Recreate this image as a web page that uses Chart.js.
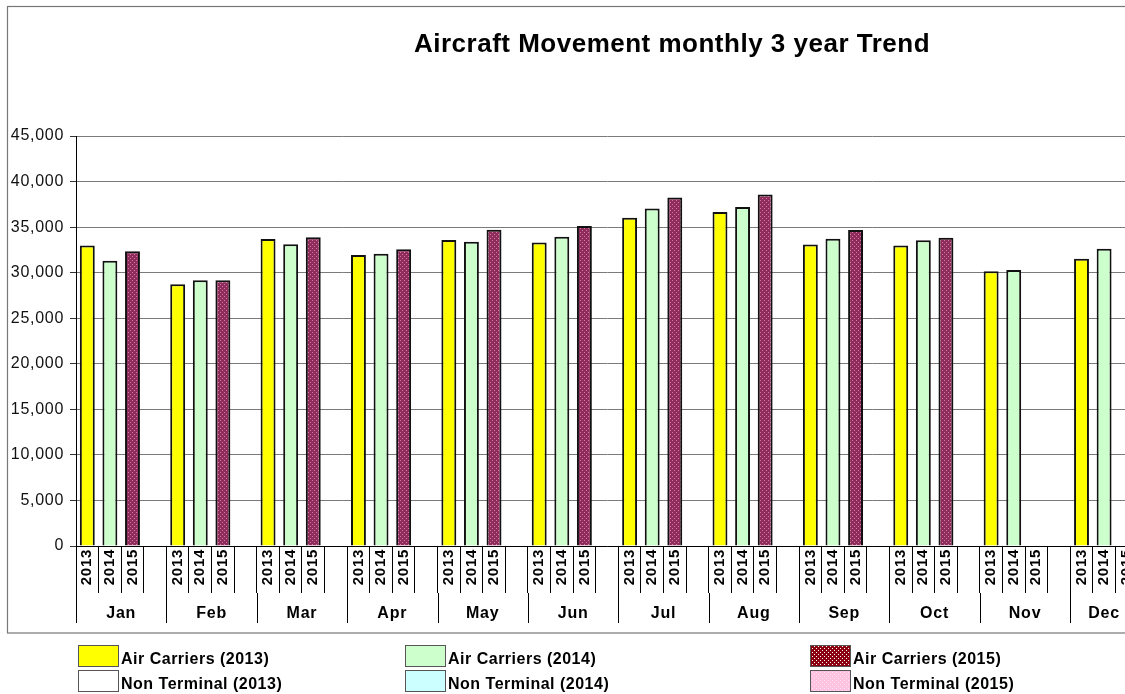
<!DOCTYPE html>
<html>
<head>
<meta charset="utf-8">
<script src="https://cdn.jsdelivr.net/npm/chart.js@4"></script>
<style>
  html, body { margin: 0; padding: 0; overflow: hidden; background: #fff; }
  #wrap { width: 1125px; height: 694px; overflow: hidden; }
</style>
</head>
<body>
<div id="wrap"><canvas id="movementChart" width="1138" height="694"></canvas></div>
<script>
const chartTitle = "Aircraft Movement monthly 3 year Trend";
const months = ["Jan", "Feb", "Mar", "Apr", "May", "Jun", "Jul", "Aug", "Sep", "Oct", "Nov", "Dec"];
const years = ["2013", "2014", "2015"];
const yTicks = [0, 5000, 10000, 15000, 20000, 25000, 30000, 35000, 40000, 45000];

const airCarriers2013 = [32990, 28740, 33700, 31940, 33580, 33320, 36040, 36650, 33080, 32970, 30150, 31520];
const airCarriers2014 = [31310, 29160, 33110, 32080, 33400, 33950, 37030, 37200, 33710, 33570, 30300, 32620];
const airCarriers2015 = [32360, 29160, 33880, 32560, 34710, 35110, 38240, 38570, 34670, 33820, null, null];
const nonTerminal2013 = [];
const nonTerminal2014 = [];
const nonTerminal2015 = [];

const seriesNames = [
  "Air Carriers (2013)", "Air Carriers (2014)", "Air Carriers (2015)",
  "Non Terminal (2013)", "Non Terminal (2014)", "Non Terminal (2015)"
];

const FONT = "'Liberation Sans', Arial, sans-serif";

function makePattern(base, dot) {
  const c = document.createElement("canvas");
  c.width = 4; c.height = 4;
  const g = c.getContext("2d");
  g.fillStyle = base;
  g.fillRect(0, 0, 4, 4);
  g.fillStyle = dot;
  g.fillRect(0, 0, 1, 1);
  g.fillRect(2, 2, 1, 1);
  return g.createPattern(c, "repeat");
}

// slots per month: 2013, 2014, 2015, gap (last month has no gap)
const slotLabels = [];
months.forEach((m, i) => {
  years.forEach(y => slotLabels.push(y));
  if (i < months.length - 1) slotLabels.push("");
});

function toSlots(values, yearIndex) {
  const out = new Array(slotLabels.length).fill(null);
  months.forEach((m, i) => {
    if (values[i] != null) out[i * 4 + yearIndex] = values[i];
  });
  return out;
}

const barPattern = makePattern("#8e2c5c", "#d77aa6");
const legendPattern2015 = makePattern("#8a0010", "#ffffff");
const pinkPattern = makePattern("#ffc2e0", "#ffe6f2");

const datasets = [
  { label: seriesNames[0], data: toSlots(airCarriers2013, 0), backgroundColor: "#ffff00", legendFill: "#ffff00" },
  { label: seriesNames[1], data: toSlots(airCarriers2014, 1), backgroundColor: "#ccffcc", legendFill: "#ccffcc" },
  { label: seriesNames[2], data: toSlots(airCarriers2015, 2), backgroundColor: barPattern, legendFill: legendPattern2015 },
  { label: seriesNames[3], data: toSlots(nonTerminal2013, 0), backgroundColor: "#ffffff", legendFill: "#ffffff" },
  { label: seriesNames[4], data: toSlots(nonTerminal2014, 1), backgroundColor: "#ccffff", legendFill: "#ccffff" },
  { label: seriesNames[5], data: toSlots(nonTerminal2015, 2), backgroundColor: pinkPattern, legendFill: pinkPattern }
].map(d => Object.assign(d, {
  borderColor: "#111",
  borderWidth: 2,
  barPercentage: 0.66,
  categoryPercentage: 1
}));

const decorPlugin = {
  id: "decor",
  beforeDraw(chart) {
    // the reference text is drawn a bit wider than Arial
    chart.ctx.letterSpacing = "0.7px";
  },
  afterDraw(chart) {
    const ctx = chart.ctx;
    const x = chart.scales.x;
    const area = chart.chartArea;
    ctx.save();

    // outer frame
    ctx.strokeStyle = "#777";
    ctx.lineWidth = 1.2;
    ctx.strokeRect(7.5, 6.5, 1300, 626.5);

    // title
    ctx.fillStyle = "#000";
    ctx.letterSpacing = "0.5px";
    ctx.font = "bold 26px " + FONT;
    ctx.textAlign = "center";
    ctx.textBaseline = "alphabetic";
    ctx.fillText(chartTitle, 672, 52);

    // month separators and labels
    const slotW = x.width / slotLabels.length;
    ctx.strokeStyle = "#000";
    ctx.lineWidth = 1;
    ctx.letterSpacing = "0.8px";
    ctx.font = "bold 16px " + FONT;
    months.forEach((m, i) => {
      const left = x.getPixelForValue(i * 4) - slotW / 2;
      const lx = Math.round(left) + 0.5;
      ctx.beginPath();
      ctx.moveTo(lx, area.bottom + 47);
      ctx.lineTo(lx, area.bottom + 77);
      ctx.stroke();
      const span = i < months.length - 1 ? 4 : 3;
      ctx.fillText(m, left + slotW * span / 2, area.bottom + 72);
    });

    // legend
    const cols = [78, 405, 810];
    const rows = [645, 670];
    ctx.textAlign = "left";
    ctx.letterSpacing = "0.5px";
    chart.data.datasets.forEach((ds, i) => {
      const cx = cols[i % 3];
      const cy = rows[Math.floor(i / 3)];
      ctx.fillStyle = ds.legendFill;
      ctx.fillRect(cx, cy, 40, 21);
      ctx.strokeStyle = "#555";
      ctx.lineWidth = 1;
      ctx.strokeRect(cx + 0.5, cy + 0.5, 40, 21);
      ctx.fillStyle = "#000";
      ctx.fillText(ds.label, cx + 43, cy + 19);
    });
    ctx.restore();
  }
};

new Chart(document.getElementById("movementChart"), {
  type: "bar",
  data: { labels: slotLabels, datasets: datasets },
  plugins: [decorPlugin],
  options: {
    responsive: false,
    animation: false,
    layout: { padding: { top: 136, left: 8, right: 0, bottom: 61 } },
    plugins: {
      legend: { display: false },
      title: { display: false },
      tooltip: { enabled: false }
    },
    scales: {
      x: {
        stacked: true,
        afterFit: scale => { scale.height = 87; },
        border: { color: "#000", width: 1 },
        grid: {
          offset: true,
          drawOnChartArea: false,
          drawTicks: true,
          tickLength: 47,
          color: "#000"
        },
        ticks: {
          autoSkip: false,
          minRotation: 90,
          maxRotation: 90,
          padding: -44,
          color: "#000",
          font: { family: FONT, size: 15, weight: "bold" }
        }
      },
      y: {
        stacked: true,
        min: 0,
        max: 45000,
        afterFit: scale => { scale.width = 68; },
        afterBuildTicks: scale => { scale.ticks = yTicks.map(v => ({ value: v })); },
        border: { color: "#000", width: 1 },
        grid: { color: "#7a7a7a", lineWidth: 1, tickLength: 6, tickColor: "#333" },
        ticks: {
          padding: 6,
          color: "#111",
          font: { family: FONT, size: 16 },
          callback: v => v.toLocaleString("en-US")
        }
      }
    }
  }
});
</script>
</body>
</html>
